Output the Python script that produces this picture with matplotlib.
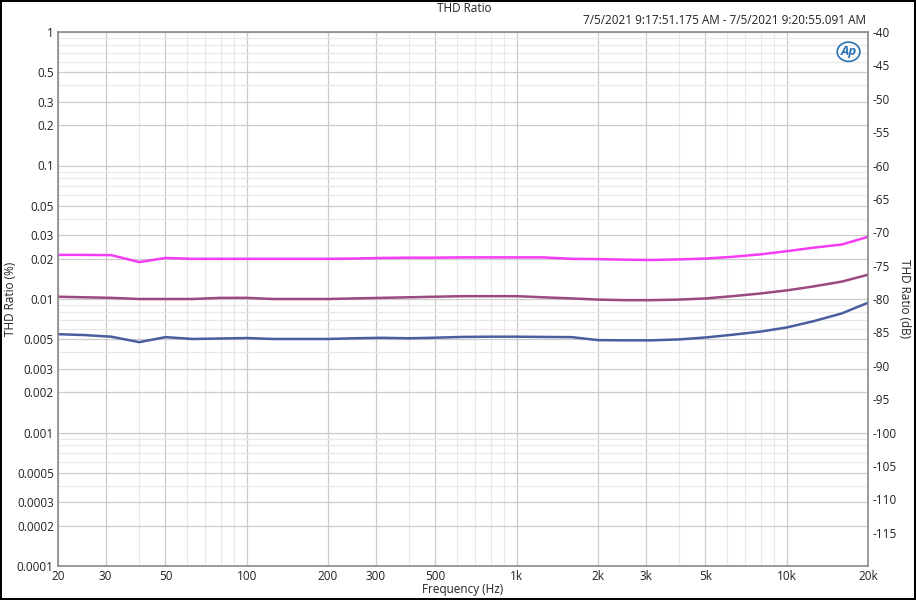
import numpy as np
import matplotlib
matplotlib.use("Agg")
import matplotlib.pyplot as plt
from matplotlib.ticker import FixedLocator, NullFormatter
from matplotlib.patches import Ellipse

plt.rcParams['font.family'] = ['Open Sans', 'DejaVu Sans']
plt.rcParams['axes.unicode_minus'] = False

# 1/3 octave frequencies (Hz)
freq = [20, 25, 31.5, 40, 50, 63, 80, 100, 125, 160, 200, 250, 315, 400, 500,
        630, 800, 1000, 1250, 1600, 2000, 2500, 3150, 4000, 5000, 6300, 8000,
        10000, 12500, 16000, 20000]

# THD ratio (%) for three channels/levels
thd_pink = [0.0214, 0.0214, 0.0213, 0.0189, 0.0203, 0.0200, 0.0200, 0.0200, 0.0200,
            0.0200, 0.0200, 0.0201, 0.0203, 0.0204, 0.0204, 0.0205, 0.0205, 0.0205,
            0.0205, 0.0200, 0.0199, 0.0197, 0.0196, 0.0198, 0.0201, 0.0207, 0.0216,
            0.0228, 0.0242, 0.0256, 0.0292]
thd_purple = [0.0104, 0.0103, 0.0102, 0.0100, 0.0100, 0.0100, 0.0102, 0.0102, 0.0100,
              0.0100, 0.0100, 0.0101, 0.0102, 0.0103, 0.0104, 0.0105, 0.0105, 0.0105,
              0.0103, 0.0101, 0.0099, 0.0098, 0.0098, 0.0099, 0.0101, 0.0105, 0.0110,
              0.0116, 0.0124, 0.0135, 0.0152]
thd_blue = [0.00545, 0.00537, 0.00522, 0.00475, 0.00518, 0.00502, 0.00506, 0.00510,
            0.00502, 0.00502, 0.00502, 0.00508, 0.00512, 0.00508, 0.00513, 0.00520,
            0.00522, 0.00522, 0.00520, 0.00518, 0.00492, 0.00490, 0.00490, 0.00498,
            0.00515, 0.00540, 0.00570, 0.00612, 0.00680, 0.00780, 0.00938]

x_ticks = [20, 30, 50, 100, 200, 300, 500, 1000, 2000, 3000, 5000, 10000, 20000]
x_labels = ['20', '30', '50', '100', '200', '300', '500', '1k', '2k', '3k', '5k', '10k', '20k']
y_ticks = [1, 0.5, 0.3, 0.2, 0.1, 0.05, 0.03, 0.02, 0.01, 0.005, 0.003, 0.002,
           0.001, 0.0005, 0.0003, 0.0002, 0.0001]
y_labels = ['1', '0.5', '0.3', '0.2', '0.1', '0.05', '0.03', '0.02', '0.01', '0.005',
            '0.003', '0.002', '0.001', '0.0005', '0.0003', '0.0002', '0.0001']
db_ticks = list(range(-115, -39, 5))

txt = '#222222'
fig = plt.figure(figsize=(9.16, 6), dpi=100, linewidth=1.5, edgecolor='black')
ax = fig.add_axes([58/916, 1 - 566/600, 810/916, 534/600])

ax.set_xscale('log')
ax.set_yscale('log')
ax.set_xlim(20, 20000)
ax.set_ylim(0.0001, 1)

# minor grid positions
x_minor = [m * 10**e for e in range(1, 5) for m in range(2, 10)]
x_minor = [v for v in x_minor if 20 <= v <= 20000 and v not in x_ticks]
y_minor = [m * 10.0**e for e in range(-4, 0) for m in range(2, 10)]
y_minor = [v for v in y_minor if not any(abs(v - t) / t < 1e-6 for t in y_ticks)]

ax.xaxis.set_major_locator(FixedLocator(x_ticks))
ax.xaxis.set_minor_locator(FixedLocator(x_minor))
ax.yaxis.set_major_locator(FixedLocator(y_ticks))
ax.yaxis.set_minor_locator(FixedLocator(y_minor))
ax.set_xticklabels(x_labels)
ax.set_yticklabels(y_labels)
ax.xaxis.set_minor_formatter(NullFormatter())
ax.yaxis.set_minor_formatter(NullFormatter())

ax.grid(True, which='major', color='#cccccc', linewidth=0.9)
ax.grid(True, which='minor', color='#e8e8e8', linewidth=0.9)
ax.set_axisbelow(True)
ax.tick_params(which='both', length=0, labelsize=8.5, colors=txt, pad=3)

for s in ax.spines.values():
    s.set_color('#8a8a8a')
    s.set_linewidth(1.2)

ax.plot(freq, thd_pink, color='#f53cf5', linewidth=1.8)
ax.plot(freq, thd_purple, color='#9b4a80', linewidth=1.8)
ax.plot(freq, thd_blue, color='#4a5e9f', linewidth=1.8)

ax.set_xlabel('Frequency (Hz)', fontsize=8.5, color=txt)
ax.xaxis.set_label_coords(0.5, -0.032)
ax.set_ylabel('THD Ratio (%)', fontsize=8.5, color=txt)
ax.yaxis.set_label_coords(-0.050, 0.5)

ax2 = ax.twinx()
ax2.set_ylim(-120, -40)
ax2.set_yticks(db_ticks)
ax2.set_yticklabels([str(v) for v in db_ticks])
ax2.tick_params(length=0, labelsize=8.5, colors=txt, pad=3)
ax2.set_ylabel('THD Ratio (dB)', fontsize=8.5, color=txt, rotation=270)
ax2.yaxis.set_label_coords(1.053, 0.5)
for s in ax2.spines.values():
    s.set_visible(False)

fig.text(464/916, 1 - 8/600, 'THD Ratio', ha='center', va='center', fontsize=8.5, color=txt)
fig.text(866/916, 1 - 21/600, '7/5/2021 9:17:51.175 AM - 7/5/2021 9:20:55.091 AM',
         ha='right', va='center', fontsize=8.5, color=txt)

# Ap logo
ax.text(0.976, 0.963, 'Ap', transform=ax.transAxes, ha='center', va='center',
        fontsize=9.5, fontstyle='italic', fontweight='bold', color='#2a72b5')
ax.add_patch(Ellipse((0.976, 0.963), 0.028, 0.036, transform=ax.transAxes,
                     fill=False, edgecolor='#2a72b5', linewidth=1.2))

fig.savefig('out.png', dpi=100)
